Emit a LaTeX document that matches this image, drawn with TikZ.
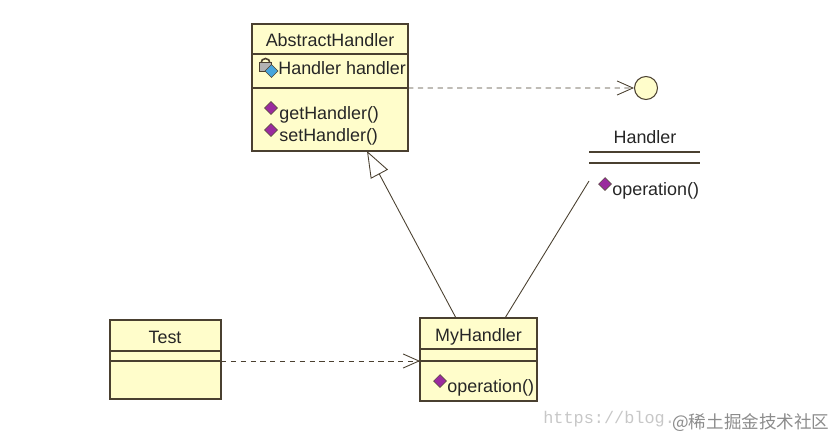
\documentclass[tikz,border=0pt]{standalone}
\usepackage{fontspec}
\setmainfont{Liberation Sans}
\setmonofont{Liberation Mono}
\newfontfamily\cjk{Noto Sans CJK SC}
\usetikzlibrary{arrows.meta,shapes.geometric}
\definecolor{classfill}{HTML}{FFFDCB}
\definecolor{classline}{HTML}{4A4030}
\definecolor{opfill}{HTML}{9A2A9E}
\definecolor{keyfill}{HTML}{45A5DC}
\begin{document}
\begin{tikzpicture}[x=0.02cm,y=-0.02cm]
        \tikzset{part/.style = {shape=rectangle,draw=classline,fill=classfill,line width=0.6pt,inner sep=0pt,outer sep=0pt}}
        \tikzset{bare/.style = {shape=rectangle,inner sep=0pt,outer sep=0pt}}
        \tikzset{label/.style = {inner sep=0pt,text=black!85,font=\fontsize{10.2}{12}\selectfont}}
        \tikzset{member/.style = {label,anchor=west}}
        \tikzset{op/.style = {shape=diamond,draw=classline,fill=opfill,line width=0.3pt,inner sep=0pt,minimum size=0.26cm}}
        \tikzset{link/.style = {draw=classline,line width=0.5pt}}
        \tikzset{use/.style = {link,dash pattern=on 3pt off 2.6pt,-{Straight Barb[length=9pt,width=8pt,line width=0.5pt]}}}
        \useasboundingbox (0,0) rectangle (834,439);
        % AbstractHandler
        \node[part,minimum width=3.12cm,minimum height=0.6cm] (abstitle) at (330,39) {};
        \node[part,minimum width=3.12cm,minimum height=0.68cm] (absattr) at (330,71) {};
        \node[part,minimum width=3.12cm,minimum height=1.26cm] (absops) at (330,119.5) {};
        \node[label] (absname) at (330,40) {AbstractHandler};
        \node[member] (attrname) at (278,68) {Handler handler};
        \node[member] (getname) at (279,115) {getHandler()};
        \node[member] (setname) at (279,137) {setHandler()};
        \node[op] (getop) at (271,108) {};
        \node[op] (setop) at (271,130) {};
        % lock and key of the attribute
        \draw[classline,line width=0.9pt] (261,63) arc[start angle=180,end angle=360,radius=4.5];
        \node[bare,draw=classline,fill=gray!60,minimum width=0.24cm,minimum height=0.18cm] (lockbody) at (265.5,67) {};
        \node[op,fill=keyfill,minimum size=0.26cm] (lockkey) at (271.5,71) {};
        % Handler as interface
        \node[shape=circle,draw=classline,fill=classfill,line width=0.6pt,inner sep=0pt,minimum size=0.46cm] (iface) at (646,88) {};
        % Handler
        \node[bare,minimum width=2.22cm,minimum height=0.64cm] (handtitle) at (644.5,136) {};
        \node[bare,minimum width=2.22cm,minimum height=0.72cm] (handops) at (644.5,181) {};
        \node[label] (handname) at (645,137) {Handler};
        \node[member] (handop) at (612,191) {operation()};
        \node[op] (handmark) at (605,184) {};
        \draw[link,line width=0.7pt] (handtitle.south west) to (handtitle.south east);
        \draw[link,line width=0.7pt] (handops.north west) to (handops.north east);
        % Test
        \node[part,minimum width=2.22cm,minimum height=0.62cm] (testtitle) at (165.5,335.5) {};
        \node[part,minimum width=2.22cm,minimum height=0.2cm] (testattr) at (165.5,356) {};
        \node[part,minimum width=2.22cm,minimum height=0.76cm] (testops) at (165.5,380) {};
        \node[label] (testname) at (165,337) {Test};
        % MyHandler
        \node[part,minimum width=2.34cm,minimum height=0.62cm] (mytitle) at (478.5,333.5) {};
        \node[part,minimum width=2.34cm,minimum height=0.24cm] (myattr) at (478.5,355) {};
        \node[part,minimum width=2.34cm,minimum height=0.8cm] (myops) at (478.5,381) {};
        \node[label] (myname) at (478.5,337) {MyHandler};
        \node[member] (myop) at (447,388) {operation()};
        \node[op] (mymark) at (440,381) {};
        % connectors
        \draw[use] (absattr.south east) to (iface.west);
        \draw[use] (testattr.south east) to (myattr.south west);
        \draw[link,-{Triangle[open,fill=white,length=15pt,width=11pt,line width=0.5pt]}] ([xshift=-0.45cm]mytitle.north) to ([xshift=0.74cm]absops.south);
        \draw[link] ([xshift=0.53cm]mytitle.north) to (handops.west);
        % text left on the image
        \node[anchor=west,inner sep=0pt,text=black!22,font=\ttfamily\fontsize{9.6}{12}\selectfont] (urlmark) at (543,419) {https://blog.};
        \node[anchor=west,inner sep=0pt,text=black!45,font=\cjk\fontsize{10}{12}\selectfont] (sitemark) at (672,423) {@稀土掘金技术社区};
\end{tikzpicture}
\end{document}
